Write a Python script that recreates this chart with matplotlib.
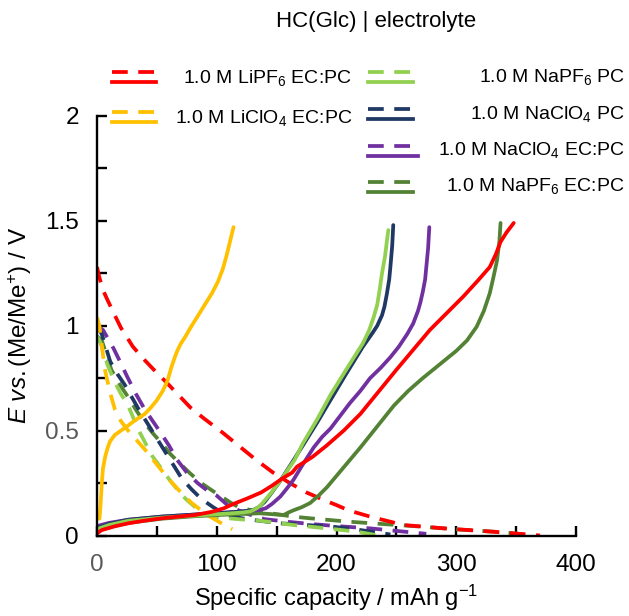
import matplotlib
matplotlib.use("Agg")
import matplotlib.pyplot as plt
from matplotlib.lines import Line2D

plt.rcParams['font.family'] = ['Liberation Sans', 'DejaVu Sans']
plt.rcParams['mathtext.fontset'] = 'custom'
plt.rcParams['mathtext.rm'] = 'Liberation Sans'
plt.rcParams['mathtext.it'] = 'Liberation Sans:italic'

# ---- data ----
labels = ["1.0 M LiPF$_6$ EC:PC", "1.0 M LiClO$_4$ EC:PC", "1.0 M NaPF$_6$ PC",
          "1.0 M NaClO$_4$ PC", "1.0 M NaClO$_4$ EC:PC", "1.0 M NaPF$_6$ EC:PC"]
colors = ["#FF0000", "#FFC000", "#92D050", "#1F3864", "#7030A0", "#548235"]

# discharge (dashed)
lipf6_dis_x = [0, 2, 5, 9, 14, 20, 30, 40, 50, 58, 68, 78, 90, 105, 120, 133, 147, 161, 175, 189, 200, 210, 228, 256, 290, 331, 370]
lipf6_dis_y = [1.28, 1.23, 1.17, 1.12, 1.06, 0.99, 0.90, 0.835, 0.775, 0.73, 0.67, 0.61, 0.555, 0.49, 0.42, 0.36, 0.30, 0.25, 0.205, 0.17, 0.145, 0.12, 0.09, 0.05, 0.034, 0.018, 0.0]
liclo4_dis_x = [0, 2, 3, 5, 7, 11, 15, 20, 26, 33, 40, 47, 54, 62, 71, 79, 87, 95, 104, 113]
liclo4_dis_y = [1.04, 1.0, 0.95, 0.86, 0.78, 0.68, 0.60, 0.545, 0.50, 0.455, 0.41, 0.36, 0.31, 0.255, 0.20, 0.155, 0.12, 0.088, 0.058, 0.03]
napf6pc_dis_x = [0, 2, 4, 9, 15, 20, 26, 34, 40, 46, 53, 60, 67, 74, 82, 90, 97, 104, 120, 137, 164, 192, 217, 235]
napf6pc_dis_y = [0.95, 0.93, 0.90, 0.81, 0.73, 0.675, 0.62, 0.51, 0.445, 0.38, 0.325, 0.27, 0.22, 0.175, 0.135, 0.10, 0.09, 0.085, 0.077, 0.07, 0.05, 0.034, 0.018, 0.0]
naclo4pc_dis_x = [0, 4, 11, 17, 23, 29, 35, 41, 47, 53, 59, 65, 71, 79, 87, 97, 107, 118, 129, 153, 175, 197, 220, 245]
naclo4pc_dis_y = [1.0, 0.96, 0.83, 0.77, 0.72, 0.66, 0.60, 0.545, 0.49, 0.435, 0.38, 0.325, 0.27, 0.22, 0.175, 0.135, 0.10, 0.085, 0.075, 0.058, 0.05, 0.042, 0.026, 0.005]
naclo4ec_dis_x = [0, 5, 9, 14, 20, 25, 32, 40, 46, 52, 60, 67, 75, 84, 92, 100, 110, 124, 140, 160, 178, 200, 228, 250, 275]
naclo4ec_dis_y = [1.0, 0.98, 0.94, 0.89, 0.82, 0.76, 0.68, 0.60, 0.55, 0.50, 0.43, 0.36, 0.30, 0.25, 0.215, 0.19, 0.14, 0.106, 0.078, 0.065, 0.055, 0.045, 0.034, 0.022, 0.008]
napf6ec_dis_x = [0, 4, 8, 12, 19, 26, 33, 40, 47, 54, 61, 68, 78, 87, 96, 104, 112, 120, 130, 140, 152, 164, 178, 192, 210, 230, 264, 303, 340, 365]
napf6ec_dis_y = [0.95, 0.93, 0.86, 0.79, 0.72, 0.66, 0.595, 0.535, 0.485, 0.44, 0.39, 0.35, 0.295, 0.25, 0.215, 0.185, 0.155, 0.13, 0.12, 0.11, 0.10, 0.09, 0.082, 0.075, 0.066, 0.058, 0.045, 0.028, 0.015, 0.0]

# charge (solid)
lipf6_ch_x = [0, 4, 15, 26, 40, 54, 68, 82, 96, 106, 115, 126, 137, 146, 155, 163, 167, 180, 192, 206, 220, 235, 250, 264, 278, 292, 306, 318, 328, 333, 337, 342, 348]
lipf6_ch_y = [0.01, 0.026, 0.044, 0.058, 0.071, 0.082, 0.09, 0.098, 0.113, 0.13, 0.153, 0.178, 0.205, 0.237, 0.273, 0.30, 0.328, 0.375, 0.43, 0.50, 0.58, 0.685, 0.79, 0.885, 0.98, 1.06, 1.14, 1.215, 1.28, 1.34, 1.40, 1.445, 1.49]
liclo4_ch_x = [2, 2.5, 3, 4, 5, 7, 9, 11, 15, 20, 25, 32, 40, 45, 50, 55, 59, 62, 65, 67, 70, 74, 78, 84, 90, 96, 101, 105, 108, 111, 114]
liclo4_ch_y = [0.08, 0.11, 0.15, 0.25, 0.32, 0.38, 0.42, 0.45, 0.48, 0.50, 0.52, 0.55, 0.58, 0.61, 0.645, 0.69, 0.74, 0.80, 0.85, 0.88, 0.915, 0.95, 0.99, 1.045, 1.10, 1.155, 1.21, 1.27, 1.33, 1.40, 1.47]
napf6pc_ch_x = [0, 10, 26, 54, 82, 110, 122, 128, 132, 136, 145, 153, 159, 165, 172, 184, 195, 208, 222, 227, 231, 234, 236, 238, 240.5, 242, 243.3]
napf6pc_ch_y = [0.03, 0.05, 0.07, 0.085, 0.095, 0.105, 0.11, 0.115, 0.125, 0.14, 0.2, 0.26, 0.31, 0.36, 0.44, 0.555, 0.67, 0.79, 0.916, 0.975, 1.04, 1.10, 1.17, 1.25, 1.33, 1.40, 1.456]
naclo4pc_ch_x = [0, 10, 26, 54, 82, 110, 122, 130, 135, 140, 146, 153, 162, 172, 184, 195, 208, 222, 230, 234, 238, 240, 242, 244, 245, 246.5, 247.4]
naclo4pc_ch_y = [0.035, 0.055, 0.075, 0.09, 0.10, 0.11, 0.115, 0.12, 0.135, 0.16, 0.205, 0.26, 0.34, 0.43, 0.54, 0.646, 0.77, 0.90, 0.965, 1.0, 1.05, 1.09, 1.15, 1.22, 1.28, 1.38, 1.48]
naclo4ec_ch_x = [0, 10, 26, 54, 82, 110, 126, 136, 141, 146, 150, 153, 158, 164, 172, 181, 188, 195, 203, 211, 220, 228, 237, 245, 252, 259, 264, 268, 270, 272, 274, 275, 276.5, 277.5]
naclo4ec_ch_y = [0.045, 0.06, 0.075, 0.09, 0.10, 0.11, 0.117, 0.122, 0.13, 0.15, 0.17, 0.185, 0.22, 0.265, 0.34, 0.42, 0.47, 0.51, 0.57, 0.63, 0.69, 0.75, 0.80, 0.85, 0.90, 0.96, 1.01, 1.07, 1.11, 1.16, 1.22, 1.28, 1.37, 1.47]
napf6ec_ch_x = [0, 10, 26, 54, 82, 110, 136, 150, 156, 160, 164, 171, 178, 185, 192, 206, 220, 234, 248, 260, 272, 286, 300, 309, 317, 323, 328, 331, 334, 336, 337]
napf6ec_ch_y = [0.02, 0.04, 0.06, 0.08, 0.092, 0.10, 0.106, 0.10, 0.098, 0.11, 0.12, 0.135, 0.155, 0.19, 0.23, 0.325, 0.42, 0.52, 0.62, 0.69, 0.75, 0.815, 0.88, 0.93, 0.995, 1.07, 1.155, 1.23, 1.31, 1.40, 1.49]

dis = [(lipf6_dis_x, lipf6_dis_y), (liclo4_dis_x, liclo4_dis_y), (napf6pc_dis_x, napf6pc_dis_y),
       (naclo4pc_dis_x, naclo4pc_dis_y), (naclo4ec_dis_x, naclo4ec_dis_y), (napf6ec_dis_x, napf6ec_dis_y)]
ch = [(lipf6_ch_x, lipf6_ch_y), (liclo4_ch_x, liclo4_ch_y), (napf6pc_ch_x, napf6pc_ch_y),
      (naclo4pc_ch_x, naclo4pc_ch_y), (naclo4ec_ch_x, naclo4ec_ch_y), (napf6ec_ch_x, napf6ec_ch_y)]

x_ticks = [0, 100, 200, 300, 400]
y_ticks = [0, 0.5, 1, 1.5, 2]
x_ticklabels = ["0", "100", "200", "300", "400"]
y_ticklabels = ["0", "0.5", "1", "1.5", "2"]

fig = plt.figure(figsize=(6.29, 6.16), dpi=100)
ax = fig.add_axes([97/629, 1-535.5/616, (576-97)/629, (535.5-116)/616])

lw = 2.7
dash = (0, (4.2, 2.8))
order = [5, 4, 3, 2, 0, 1]
for i in order:
    ax.plot(*dis[i], color=colors[i], lw=lw, ls=dash, dash_capstyle='butt')
for i in order:
    ax.plot(*ch[i], color=colors[i], lw=lw, solid_capstyle='round', solid_joinstyle='round')

ax.set_xlim(0, 400)
ax.set_ylim(0, 2)
for s in ['top', 'right']:
    ax.spines[s].set_visible(False)
for s in ['left', 'bottom']:
    ax.spines[s].set_linewidth(1.7)
ax.set_xticks(x_ticks)
ax.set_yticks(y_ticks)
ax.set_xticks([50, 150, 250, 350], minor=True)
ax.set_yticks([0.25, 0.75, 1.25, 1.75], minor=True)
ax.tick_params(which='both', direction='in', length=7, width=1.7, labelsize=17.5)
ax.tick_params(axis='x', which='both', pad=13)
ax.tick_params(axis='y', which='both', pad=13)
ax.set_xticklabels(x_ticklabels)
ax.set_yticklabels(y_ticklabels)
ax.get_xticklabels()[0].set_color("#595959")
ax.get_yticklabels()[1].set_color("#595959")
ax.set_xlabel("Specific capacity / mAh g$^{-1}$", fontsize=17, labelpad=5)
ax.set_ylabel(r"$E$ $vs.$(Me/Me$^{+}$) / V", fontsize=17.5, labelpad=8)

fig.text(376/629, 1-22/616, "HC(Glc) | electrolyte", fontsize=16, ha='center', va='center')

# legend (manual, two columns)
fs = 14
labels_map = dict(zip(colors, labels))
def leg(x0, x1, y, c, tx, ty):
    fig.add_artist(Line2D([x0/629, x1/629], [1-(y-5)/616]*2, color=c, lw=lw, ls=dash))
    fig.add_artist(Line2D([x0/629, x1/629], [1-(y+5)/616]*2, color=c, lw=lw))
    fig.text(tx/629, 1-ty/616, labels_map[c], fontsize=fs, ha='right', va='center')

leg(112, 156, 77, colors[0], 352, 78)
leg(112, 156, 117, colors[1], 352, 118)
leg(368, 413, 77, colors[2], 625, 77)
leg(368, 413, 114, colors[3], 625, 114)
leg(368, 418, 151, colors[4], 625, 150)
leg(368, 413, 187, colors[5], 625, 186)

fig.savefig("out.png", dpi=100)
